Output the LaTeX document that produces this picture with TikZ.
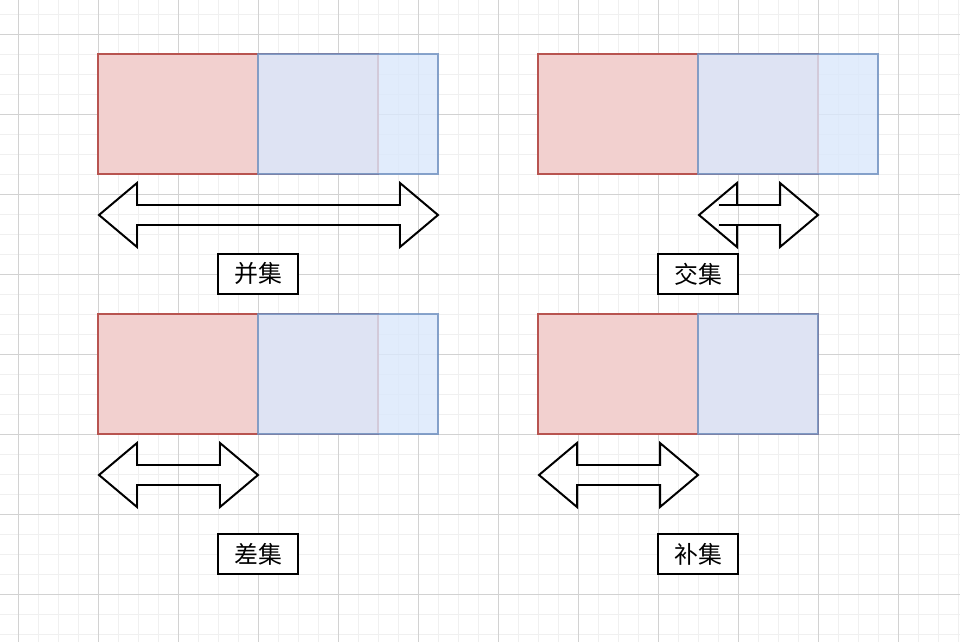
\documentclass[tikz,border=0pt]{standalone}
\usepackage{fontspec}
\newfontfamily\cjk{Noto Sans CJK SC}
\usepackage{tikz}
\usetikzlibrary{positioning}
\definecolor{setred}{RGB}{242,208,207}
\definecolor{setredline}{HTML}{B85450}
\definecolor{setblue}{HTML}{DAE8FC}
\definecolor{setblueline}{HTML}{6C8EBF}
\definecolor{minorgrid}{RGB}{240,240,240}
\definecolor{majorgrid}{RGB}{210,210,210}
\tikzset{red set/.style={rectangle,fill=setred,draw=setredline,line width=1.13pt,minimum height=2.4cm,inner sep=0pt,outer sep=0pt,anchor=north west},
	blue set/.style={rectangle,fill=setblue,draw=setblueline,fill opacity=0.8,draw opacity=0.8,line width=1.13pt,minimum height=2.4cm,inner sep=0pt,outer sep=0pt,anchor=north west},
	set label/.style={rectangle,draw,fill=white,line width=1.13pt,minimum width=1.6cm,minimum height=0.8cm,inner sep=0pt,outer sep=0pt,font=\cjk\fontsize{13.6}{16}\selectfont},}
\newcommand{\twoway}[3]{%
	\draw[line width=1.13pt,line join=miter] (#1,#3) -- (#1+38,#3-32) -- (#1+38,#3-10) -- (#2-38,#3-10) -- (#2-38,#3-32) -- (#2,#3)
	-- (#2-38,#3+32) -- (#2-38,#3+10) -- (#1+38,#3+10) -- (#1+38,#3+32) -- cycle;}

\begin{document}
\begin{tikzpicture}[x=0.02cm, y=-0.02cm]
	\useasboundingbox (0,0) rectangle (960,642);
	\fill[white] (0,0) rectangle (960,642);
	\foreach \gx in {18.5,38.5,...,958.5} \draw[minorgrid, line width=0.57pt] (\gx,0) -- (\gx,642);
	\foreach \gy in {14.5,34.5,...,634.5} \draw[minorgrid, line width=0.57pt] (0,\gy) -- (960,\gy);
	\foreach \gx in {18.5,98.5,...,898.5} \draw[majorgrid, line width=0.57pt] (\gx,0) -- (\gx,642);
	\foreach \gy in {34.5,114.5,...,594.5} \draw[majorgrid, line width=0.57pt] (0,\gy) -- (960,\gy);

	\node[red set, minimum width=5.6cm] (a1) at (98,54) {};
	\node[blue set, minimum width=3.6cm] (b1) at (258,54) {};
	\node[red set, minimum width=5.6cm] (a2) at (538,54) {};
	\node[blue set, minimum width=3.6cm] (b2) at (698,54) {};
	\node[red set, minimum width=5.6cm] (a3) at (98,314) {};
	\node[blue set, minimum width=3.6cm] (b3) at (258,314) {};
	\node[red set, minimum width=5.6cm] (a4) at (538,314) {};
	\node[blue set, minimum width=2.4cm] (b4) at (698,314) {};

	\twoway{99}{438}{215}
	\twoway{699}{818}{215}
	\draw[line width=1.13pt] (719,205) -- (738,205) (719,225) -- (738,225);
	\twoway{99}{258}{475}
	\twoway{539}{698}{475}

	\node[set label] (union) [below=1.6cm of b1.south west] {并集};
	\node[set label] (inter) [below=1.6cm of b2.south west] {交集};
	\node[set label] (diff) [below=2cm of b3.south west] {差集};
	\node[set label] (compl) [below=2cm of b4.south west] {补集};
\end{tikzpicture}
\end{document}
